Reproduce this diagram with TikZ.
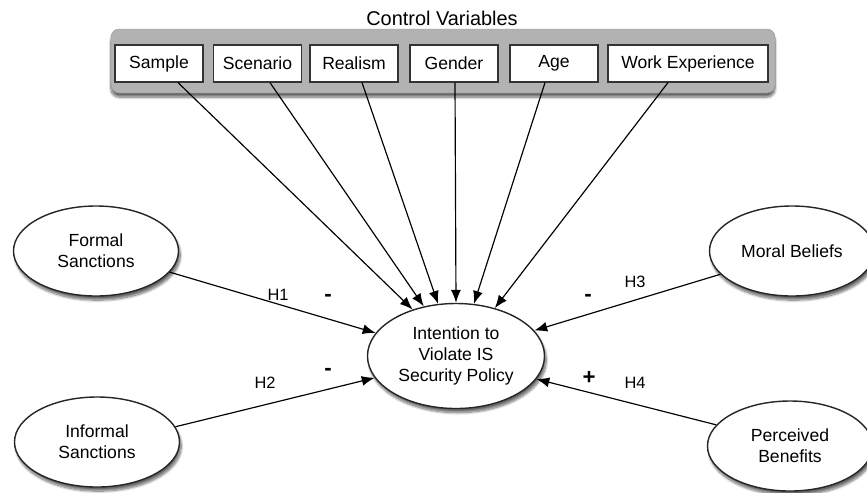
\documentclass[tikz,border=0pt]{standalone}
\usepackage{fontspec}
\setmainfont{Liberation Sans}
\usetikzlibrary{arrows.meta, shapes.geometric, shadows.blur}

\tikzset{
  controllo/.style={draw=black!80, line width=1pt, fill=white, minimum width=2.64cm, minimum height=1.11cm, inner sep=0pt, font=\fontsize{15}{18}\selectfont},
  costrutto/.style={ellipse, draw=black!85, line width=1.2pt, fill=white, minimum width=4.95cm, minimum height=2.7cm, inner sep=0pt, align=center, font=\fontsize{15}{18}\selectfont, blur shadow={shadow xshift=1.5pt, shadow yshift=-3.5pt, shadow blur steps=10, shadow opacity=60}},
  freccia/.style={-{Latex[length=11pt, width=8.5pt]}, line width=1pt},
  ipotesi/.style={font=\fontsize{14}{16}\selectfont},
  segno/.style={font=\fontsize{19}{20}\selectfont\bfseries},
}

\begin{document}
\begin{tikzpicture}[x=0.03cm, y=-0.03cm]
  \useasboundingbox (0,0) rectangle (867,492);

  % Variabili di controllo
  \node[font=\fontsize{17}{20}\selectfont] (titolo) at (442,18) {Control Variables};
  \node[draw=black!40, fill=black!30, rounded corners=7pt, minimum width=19.92cm, minimum height=1.92cm, blur shadow={shadow xshift=0pt, shadow yshift=-3.5pt, shadow blur steps=8, shadow opacity=60}] (pannello) at (443,61) {};
  \node[controllo] (sample) at (159,63.5) {Sample};
  \node[controllo] (scenario) at (257.5,63.5) {Scenario};
  \node[controllo] (realism) at (354,63.5) {Realism};
  \node[controllo] (gender) at (454,63.5) {Gender};
  \node[controllo] (age) at (554,63.5) {Age};
  \node[controllo, minimum width=4.8cm] (work) at (688,63.5) {Work Experience};

  % Costrutti
  \node[costrutto, minimum width=5.31cm, minimum height=3.15cm] (intenzione) at (456,356) {Intention to\\Violate IS\\Security Policy};
  \node[costrutto] (formali) at (96,251) {Formal\\Sanctions};
  \node[costrutto] (informali) at (97,442) {Informal\\Sanctions};
  \node[costrutto] (morali) at (792,251) {Moral Beliefs};
  \node[costrutto] (benefici) at (790,446) {Perceived\\Benefits};

  % Frecce dai controlli
  \draw[freccia] ([xshift=0.57cm]sample.south) -- (intenzione.133);
  \draw[freccia] ([xshift=0.375cm]scenario.south) -- (intenzione.123);
  \draw[freccia] ([xshift=0.24cm]realism.south) -- (intenzione.109);
  \draw[freccia] ([xshift=0.03cm]gender.south) -- (intenzione.90);
  \draw[freccia] ([xshift=-0.27cm]age.south) -- (intenzione.71);
  \draw[freccia] ([xshift=-0.6cm]work.south) -- (intenzione.51);

  % Ipotesi
  \draw[freccia] (formali.344) -- (intenzione.164);
  \draw[freccia] (informali.11) -- (intenzione.195);
  \draw[freccia] (morali.198) -- (intenzione.18);
  \draw[freccia] (benefici.164) -- (intenzione.344);

  % Etichette
  \node[ipotesi] (h1) at (278,295) {H1};
  \node[ipotesi] (h2) at (265,383) {H2};
  \node[ipotesi] (h3) at (635,282) {H3};
  \node[ipotesi] (h4) at (635,383) {H4};
  \node[segno] (s1) at (328,298) {-};
  \node[segno] (s2) at (328,372) {-};
  \node[segno] (s3) at (588,298) {-};
  \node[segno] (s4) at (589,378) {+};
\end{tikzpicture}
\end{document}
